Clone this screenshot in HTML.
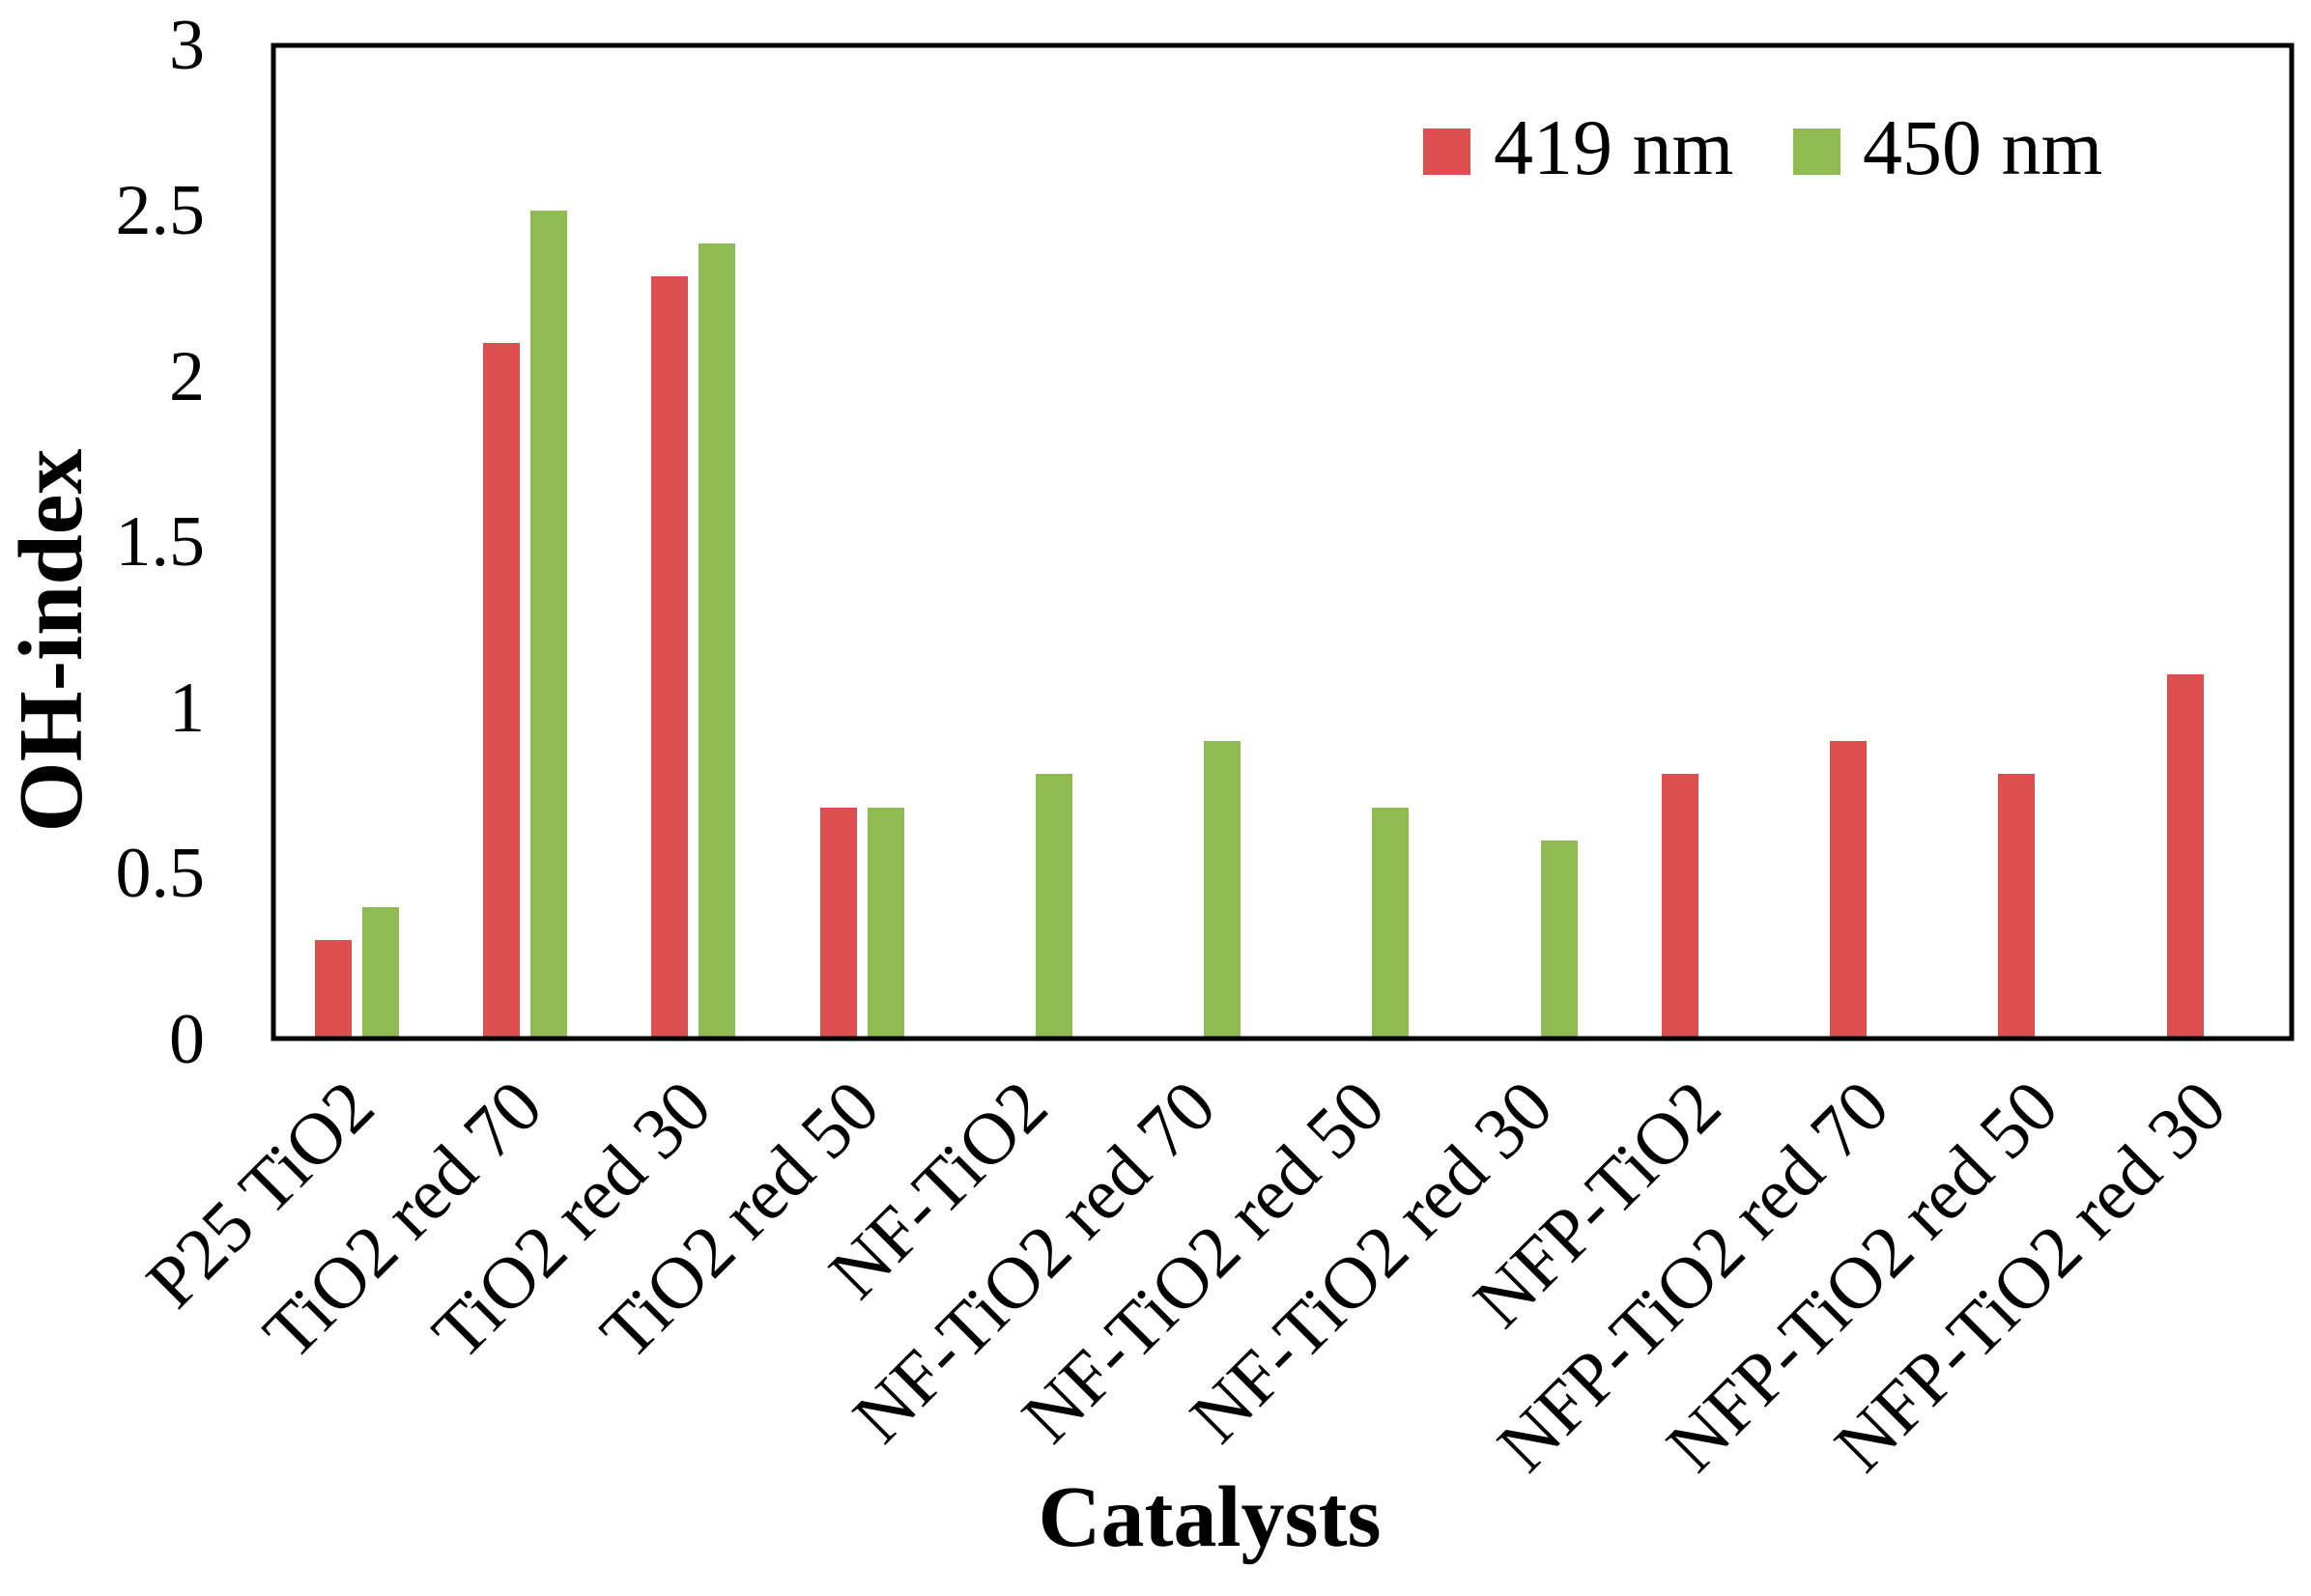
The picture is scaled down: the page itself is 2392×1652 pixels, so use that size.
<!DOCTYPE html>
<html><head><meta charset="utf-8"><style>
html,body{margin:0;padding:0;background:#fff;}
svg{display:block;}
text{font-family:"Liberation Serif",serif;fill:#000;}
</style></head><body>
<svg width="2392" height="1652" viewBox="0 0 2392 1652" xmlns="http://www.w3.org/2000/svg">
<g font-size="74" text-anchor="end">
<text x="212" y="1100">0</text>
<text x="212" y="928">0.5</text>
<text x="212" y="757">1</text>
<text x="212" y="585">1.5</text>
<text x="212" y="414">2</text>
<text x="212" y="242">2.5</text>
<text x="212" y="71">3</text>
</g>
<g>
<rect x="326" y="973" width="38" height="103" fill="#dd4f4f"/>
<rect x="375" y="939" width="38" height="137" fill="#8fbc52"/>
<rect x="500" y="355" width="38" height="721" fill="#dd4f4f"/>
<rect x="549" y="218" width="38" height="858" fill="#8fbc52"/>
<rect x="674" y="286" width="38" height="790" fill="#dd4f4f"/>
<rect x="723" y="252" width="38" height="824" fill="#8fbc52"/>
<rect x="849" y="836" width="38" height="240" fill="#dd4f4f"/>
<rect x="898" y="836" width="38" height="240" fill="#8fbc52"/>
<rect x="1072" y="801" width="38" height="275" fill="#8fbc52"/>
<rect x="1246" y="767" width="38" height="309" fill="#8fbc52"/>
<rect x="1420" y="836" width="38" height="240" fill="#8fbc52"/>
<rect x="1595" y="870" width="38" height="206" fill="#8fbc52"/>
<rect x="1720" y="801" width="38" height="275" fill="#dd4f4f"/>
<rect x="1894" y="767" width="38" height="309" fill="#dd4f4f"/>
<rect x="2068" y="801" width="38" height="275" fill="#dd4f4f"/>
<rect x="2243" y="698" width="38" height="378" fill="#dd4f4f"/>
</g>
<rect x="283" y="47" width="2089" height="1028" fill="none" stroke="#000" stroke-width="5"/>
<rect x="1473" y="133" width="49" height="48" fill="#dd4f4f"/>
<text x="1546" y="180" font-size="82">419 nm</text>
<rect x="1856" y="133" width="49" height="48" fill="#8fbc52"/>
<text x="1928" y="180" font-size="82">450 nm</text>
<g font-size="76" text-anchor="end">
<text transform="translate(391,1150) rotate(-45)">P25 TiO2</text>
<text transform="translate(565,1150) rotate(-45)">TiO2 red 70</text>
<text transform="translate(740,1150) rotate(-45)">TiO2 red 30</text>
<text transform="translate(914,1150) rotate(-45)">TiO2 red 50</text>
<text transform="translate(1088,1150) rotate(-45)">NF-TiO2</text>
<text transform="translate(1262,1150) rotate(-45)">NF-TiO2 red 70</text>
<text transform="translate(1437,1150) rotate(-45)">NF-TiO2 red 50</text>
<text transform="translate(1611,1150) rotate(-45)">NF-TiO2 red 30</text>
<text transform="translate(1785,1150) rotate(-45)">NFP-TiO2</text>
<text transform="translate(1959,1150) rotate(-45)">NFP-TiO2 red 70</text>
<text transform="translate(2134,1150) rotate(-45)">NFP-TiO2 red 50</text>
<text transform="translate(2308,1150) rotate(-45)">NFP-TiO2 red 30</text>
</g>
<text x="1252" y="1600" font-size="90" font-weight="bold" text-anchor="middle">Catalysts</text>
<text transform="translate(84,663) rotate(-90)" font-size="94" font-weight="bold" text-anchor="middle">OH-index</text>
</svg>
</body></html>
